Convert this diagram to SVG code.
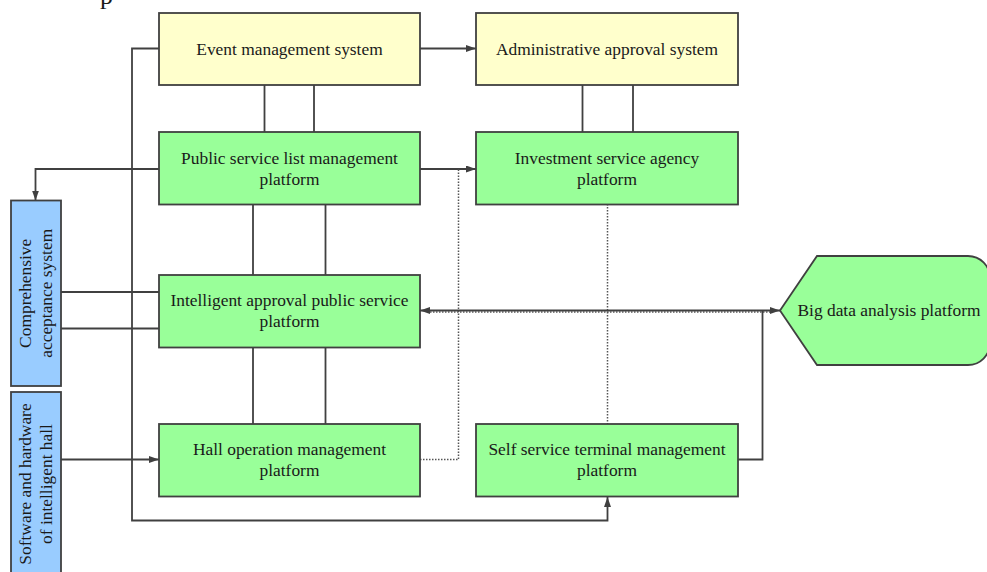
<svg xmlns="http://www.w3.org/2000/svg" width="987" height="572" viewBox="0 0 987 572">
<style>
.box{stroke:#404040;stroke-width:1.8}
.y{fill:#FFFFCC}.g{fill:#99FF99}.b{fill:#99CCFF}
.t{font-family:'Liberation Serif','DejaVu Serif',serif;font-size:17.4px;fill:#1a1a1a;text-anchor:middle}
.c{fill:none;stroke:#404040;stroke-width:1.8}
.d{fill:none;stroke:#555555;stroke-width:1.5;stroke-dasharray:1.5 1.5}
</style>
<defs>
<marker id="ah" viewBox="0 0 10 7" refX="10" refY="3.5" markerWidth="10" markerHeight="7" markerUnits="userSpaceOnUse" orient="auto-start-reverse">
<path d="M0,0 L10,3.5 L0,7 Z" fill="#404040"/>
</marker>
</defs>
<rect width="987" height="572" fill="#ffffff"/>
<text x="100" y="4" font-family="Liberation Serif, DejaVu Serif, serif" font-size="26" fill="#1a1a1a">p</text>

<g id="connectors">
<path class="c" d="M420,48.5 L476,48.5" marker-end="url(#ah)"/>
<path class="c" d="M159,48.5 L132,48.5 L132,520.5 L607.5,520.5 L607.5,497" marker-end="url(#ah)"/>
<path class="c" d="M264.5,83 L264.5,137 M314,83 L314,137"/>
<path class="c" d="M582.5,83 L582.5,137 M633,83 L633,137"/>
<path class="c" d="M159,169 L35.5,169 L35.5,200.5" marker-end="url(#ah)"/>
<path class="c" d="M420,169 L476,169" marker-end="url(#ah)"/>
<path class="d" d="M420,459.5 L458.5,459.5 L458.5,169"/>
<path class="d" d="M607.5,204 L607.5,424"/>
<path class="c" d="M253,201 L253,285 M325.5,201 L325.5,285"/>
<path class="c" d="M253,344 L253,428 M325.5,344 L325.5,428"/>
<path class="c" d="M61,292 L159,292 M61,328.5 L159,328.5"/>
<path class="c" d="M420,310.5 L780,310.5" marker-start="url(#ah)" marker-end="url(#ah)"/>
<path class="d" d="M430,312 L770,312"/>
<path class="c" d="M738,459.5 L762.5,459.5 L762.5,310.5"/>
<path class="c" d="M61,459.5 L159,459.5" marker-end="url(#ah)"/>
</g>

<g id="event">
<rect class="box y" x="159" y="13" width="261" height="72"/>
<text class="t" font-family="Liberation Serif, DejaVu Serif, serif" x="289.5" y="54.5">Event management system</text>
</g>
<g id="admin">
<rect class="box y" x="476" y="13" width="262" height="72"/>
<text class="t" font-family="Liberation Serif, DejaVu Serif, serif" x="607" y="54.5">Administrative approval system</text>
</g>
<g id="public">
<rect class="box g" x="159" y="132" width="261" height="72.5"/>
<text class="t" font-family="Liberation Serif, DejaVu Serif, serif" x="289.5" y="164">Public service list management</text>
<text class="t" font-family="Liberation Serif, DejaVu Serif, serif" x="289.5" y="185">platform</text>
</g>
<g id="investment">
<rect class="box g" x="476" y="132" width="262" height="72.5"/>
<text class="t" font-family="Liberation Serif, DejaVu Serif, serif" x="607" y="164">Investment service agency</text>
<text class="t" font-family="Liberation Serif, DejaVu Serif, serif" x="607" y="185">platform</text>
</g>
<g id="intelligent">
<rect class="box g" x="159" y="275" width="261" height="72.5"/>
<text class="t" font-family="Liberation Serif, DejaVu Serif, serif" x="289.5" y="306">Intelligent approval public service</text>
<text class="t" font-family="Liberation Serif, DejaVu Serif, serif" x="289.5" y="327">platform</text>
</g>
<g id="hall">
<rect class="box g" x="159" y="424" width="261" height="72.5"/>
<text class="t" font-family="Liberation Serif, DejaVu Serif, serif" x="289.5" y="455">Hall operation management</text>
<text class="t" font-family="Liberation Serif, DejaVu Serif, serif" x="289.5" y="476">platform</text>
</g>
<g id="selfservice">
<rect class="box g" x="476" y="424" width="262" height="72.5"/>
<text class="t" font-family="Liberation Serif, DejaVu Serif, serif" x="607" y="455">Self service terminal management</text>
<text class="t" font-family="Liberation Serif, DejaVu Serif, serif" x="607" y="476">platform</text>
</g>
<g id="bigdata">
<path class="box g" d="M780,310.5 L817,256 L968,256 A22,22 0 0 1 990,278 L990,343 A22,22 0 0 1 968,365 L817,365 Z"/>
<text class="t" font-family="Liberation Serif, DejaVu Serif, serif" x="889" y="316">Big data analysis platform</text>
</g>
<g id="comprehensive">
<rect class="box b" x="11" y="200.5" width="50" height="185.5"/>
<g transform="translate(35.7,293.3) rotate(-90)">
<text class="t" font-family="Liberation Serif, DejaVu Serif, serif" x="0" y="-4.5">Comprehensive</text>
<text class="t" font-family="Liberation Serif, DejaVu Serif, serif" x="0" y="16.5">acceptance system</text>
</g>
</g>
<g id="software">
<rect class="box b" x="11" y="392" width="50" height="184"/>
<g transform="translate(35.7,484) rotate(-90)">
<text class="t" font-family="Liberation Serif, DejaVu Serif, serif" x="0" y="-4.5">Software and hardware</text>
<text class="t" font-family="Liberation Serif, DejaVu Serif, serif" x="0" y="16.5">of intelligent hall</text>
</g>
</g>
</svg>
